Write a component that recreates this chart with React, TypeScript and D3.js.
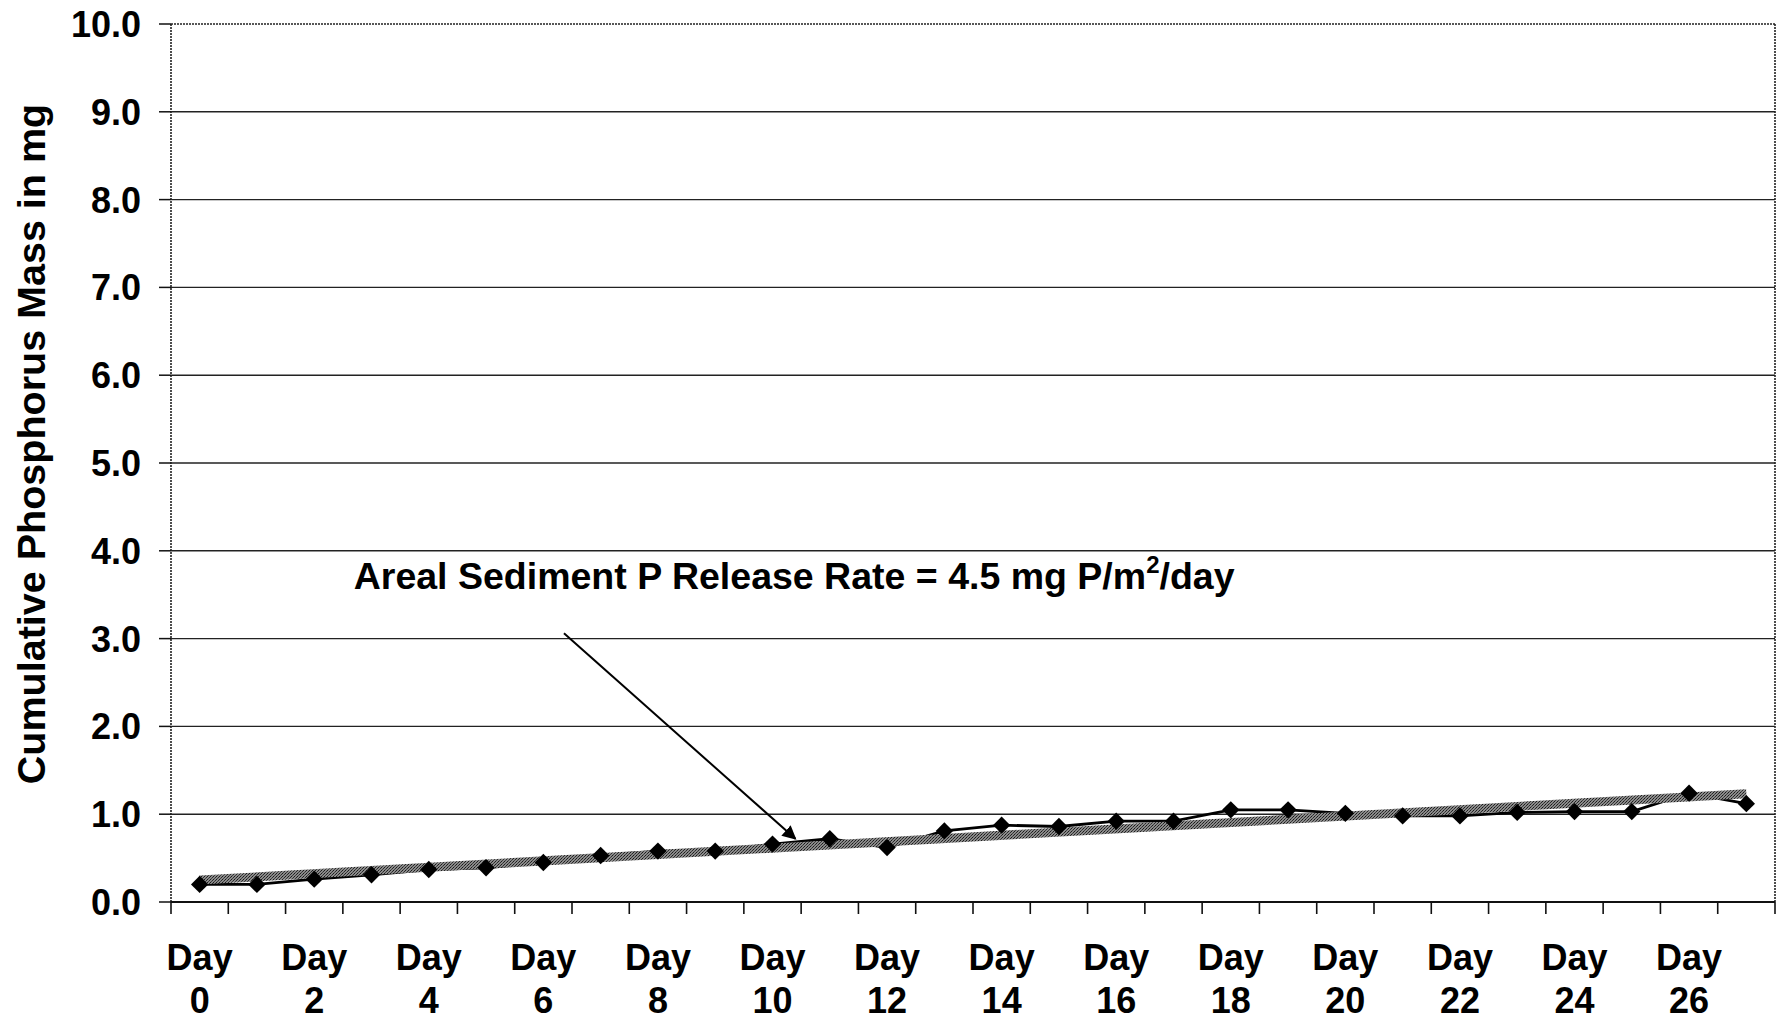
import React from "react";
import * as d3 from "d3";

// Cumulative phosphorus mass per sampling day (mg)
const days: number[] = Array.from({ length: 28 }, (_, i) => i);
const cumulativeP: number[] = [
  0.2, 0.2, 0.26, 0.31, 0.37, 0.39, 0.45, 0.53, 0.58, 0.58,
  0.66, 0.72, 0.62, 0.81, 0.875, 0.86, 0.92, 0.92, 1.05, 1.05,
  1.01, 0.98, 0.98, 1.02, 1.03, 1.03, 1.24, 1.12,
];
const yTicks: number[] = [0, 1, 2, 3, 4, 5, 6, 7, 8, 9, 10];
const labeledDays: number[] = [0, 2, 4, 6, 8, 10, 12, 14, 16, 18, 20, 22, 24, 26];

const W = 1786;
const H = 1022;
const left = 171;
const right = 1775;
const top = 24;
const bottom = 902;
const FONT = "'Liberation Sans', Arial, Helvetica, sans-serif";

export default function App() {
  // category units: day i occupies [i, i+1]
  const xc = d3.scaleLinear().domain([0, days.length]).range([left, right]);
  const x = (d: number) => xc(d + 0.5);
  const y = d3.scaleLinear().domain([0, 10]).range([bottom, top]);

  // least-squares trend through the daily values
  const meanX = d3.mean(days)!;
  const meanY = d3.mean(cumulativeP)!;
  const slope =
    d3.sum(days, (d, i) => (d - meanX) * (cumulativeP[i] - meanY)) /
    d3.sum(days, (d) => (d - meanX) ** 2);
  const intercept = meanY - slope * meanX;
  const trendPts: [number, number][] = [days[0], days[days.length - 1]].map(
    (d) => [d, intercept + slope * d]
  );

  const line = d3
    .line<[number, number]>()
    .x((p) => x(p[0]))
    .y((p) => y(p[1]));
  const dataPts: [number, number][] = days.map((d, i) => [d, cumulativeP[i]]);

  const diamond = d3.symbol().type(d3.symbolSquare).size(150)()!;

  // annotation leader in category/value units
  const ann = { tx: 3.19, ty: 3.56, x0: 6.86, y0: 3.06, x1: 10.9, y1: 0.72 };

  return (
    <svg
      width={W}
      height={H}
      style={{ position: "absolute", left: 0, top: 0, background: "#fff" }}
      fontFamily={FONT}
    >
      <defs>
        <pattern id="grain" width="3" height="3" patternUnits="userSpaceOnUse">
          <rect width="3" height="3" fill="#8a8a8a" />
          <rect x="0" y="0" width="1" height="1" fill="#1a1a1a" />
          <rect x="2" y="1" width="1" height="1" fill="#2a2a2a" />
          <rect x="1" y="2" width="1" height="1" fill="#404040" />
        </pattern>
        <marker
          id="arrow"
          viewBox="0 0 10 10"
          refX="9"
          refY="5"
          markerWidth="7"
          markerHeight="7"
          orient="auto"
          markerUnits="strokeWidth"
        >
          <path d="M0,0 L10,5 L0,10 z" fill="#000" />
        </marker>
      </defs>

      {/* horizontal gridlines */}
      {yTicks.slice(1, -1).map((t) => (
        <line key={t} x1={left} x2={right} y1={y(t)} y2={y(t)} stroke="#222" strokeWidth={1.4} />
      ))}

      {/* frame */}
      <line x1={left} x2={right} y1={top} y2={top} stroke="#222" strokeWidth={1.6} strokeDasharray="2 1" />
      <line x1={right} x2={right} y1={top} y2={bottom} stroke="#222" strokeWidth={1.6} strokeDasharray="2 1" />
      <line x1={left} x2={left} y1={top} y2={bottom} stroke="#222" strokeWidth={1.6} strokeDasharray="2 1" />
      <line x1={left} x2={right} y1={bottom} y2={bottom} stroke="#111" strokeWidth={2} />

      {/* y ticks and labels */}
      {yTicks.map((t) => (
        <g key={t}>
          <line x1={left - 12} x2={left} y1={y(t)} y2={y(t)} stroke="#111" strokeWidth={1.5} />
          <text
            x={141}
            y={y(t)}
            dy="0.36em"
            textAnchor="end"
            fontSize={36}
            fontWeight="bold"
            fill="#000"
          >
            {t.toFixed(1)}
          </text>
        </g>
      ))}

      {/* x ticks at category boundaries */}
      {d3.range(days.length + 1).map((i) => (
        <line key={i} x1={xc(i)} x2={xc(i)} y1={bottom} y2={bottom + 12} stroke="#111" strokeWidth={1.6} />
      ))}

      {/* x labels */}
      {labeledDays.map((d) => (
        <text key={d} x={x(d)} textAnchor="middle" fontSize={36} fontWeight="bold" fill="#000">
          <tspan x={x(d)} y={970}>Day</tspan>
          <tspan x={x(d)} y={1013}>{d}</tspan>
        </text>
      ))}

      {/* y axis title */}
      <text
        transform={`translate(45, ${(top + bottom) / 2 - 19}) rotate(-90)`}
        textAnchor="middle"
        fontSize={39.5}
        fontWeight="bold"
        fill="#000"
      >
        Cumulative Phosphorus Mass in mg
      </text>

      {/* measured series */}
      <path d={line(dataPts)!} fill="none" stroke="#000" strokeWidth={2.8} />

      {/* trend */}
      <path d={line(trendPts)!} fill="none" stroke="url(#grain)" strokeWidth={9} />

      {dataPts.map((p, i) => (
        <path
          key={i}
          d={diamond}
          transform={`translate(${x(p[0])},${y(p[1])}) rotate(45)`}
          fill="#000"
        />
      ))}

      {/* annotation */}
      <line
        x1={xc(ann.x0)}
        y1={y(ann.y0)}
        x2={xc(ann.x1)}
        y2={y(ann.y1)}
        stroke="#000"
        strokeWidth={2}
        markerEnd="url(#arrow)"
      />
      <text x={xc(ann.tx)} y={y(ann.ty)} fontSize={37.5} fontWeight="bold" fill="#000">
        Areal Sediment P Release Rate = 4.5 mg P/m
        <tspan fontSize={24} dy={-16}>2</tspan>
        <tspan dy={16}>/day</tspan>
      </text>
    </svg>
  );
}
